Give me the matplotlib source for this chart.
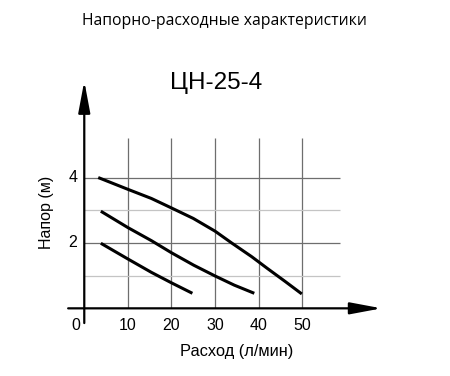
import matplotlib
matplotlib.use("Agg")
import matplotlib.pyplot as plt

# curve data (flow l/min, head m)
q_high = [3.2, 10, 15.4, 20, 25, 30, 33.8, 38.4, 42, 46.1, 49.9]
h_high = [4.0, 3.64, 3.36, 3.07, 2.75, 2.36, 2.0, 1.58, 1.22, 0.82, 0.44]
q_mid = [3.8, 10, 15.4, 20, 25.1, 30, 34.4, 39.0]
h_mid = [2.97, 2.47, 2.07, 1.70, 1.32, 0.99, 0.71, 0.46]
q_low = [3.8, 10, 15.4, 20, 24.8]
h_low = [1.99, 1.51, 1.10, 0.78, 0.46]

x_ticks = [10, 20, 30, 40, 50]
y_major = [2, 4]
y_minor = [1, 3]

title = "Напорно-расходные характеристики"
model = "ЦН-25-4"
xlabel = "Расход (л/мин)"
ylabel = "Напор (м)"

fig = plt.figure(figsize=(4.5, 3.76), dpi=100)
ax = fig.add_axes([0.0904, 0.0495, 0.7944, 0.7566])
ax.set_xlim(-10, 72)
ax.set_ylim(-1.5, 7.2)
ax.axis("off")

# grid
ax.vlines(x_ticks, 0, 5.2, color="#6e6e6e", lw=0.9)
ax.hlines(y_major, 0, 58.6, color="#6e6e6e", lw=0.9)
ax.hlines(y_minor, 0, 58.6, color="#c4c4c4", lw=0.9)

# axes with arrows
arrow = dict(arrowstyle="-|>,head_length=0.8,head_width=0.15", mutation_scale=24,
             lw=1.6, color="black", shrinkA=0, shrinkB=0)
ax.annotate("", xy=(68.2, 0), xytext=(-3.7, 0), arrowprops=arrow)
ax.annotate("", xy=(0, 6.95), xytext=(0, -0.45), arrowprops=arrow)

# curves
for q, h in [(q_high, h_high), (q_mid, h_mid), (q_low, h_low)]:
    ax.plot(q, h, color="black", lw=2.2, solid_capstyle="butt", solid_joinstyle="round")

font = "Liberation Sans"
for x in x_ticks:
    ax.text(x, -0.3, str(x), ha="center", va="top", fontsize=11.5, family=font)
ax.text(-0.9, -0.3, "0", ha="right", va="top", fontsize=11.5, family=font)
for y in y_major:
    ax.text(-1.6, y, str(y), ha="right", va="center", fontsize=11.5, family=font)

fig.text(0.526, 0.065, xlabel, ha="center", va="center", fontsize=11.8, family=font)
fig.text(0.104, 0.434, ylabel, ha="center", va="center", rotation=90, fontsize=11.5, family=font)
fig.text(0.481, 0.78, model, ha="center", va="center", fontsize=17.5, family=font)
fig.text(0.498, 0.945, title, ha="center", va="center", fontsize=11.3, family="Open Sans")

fig.savefig("out.png", dpi=100)
